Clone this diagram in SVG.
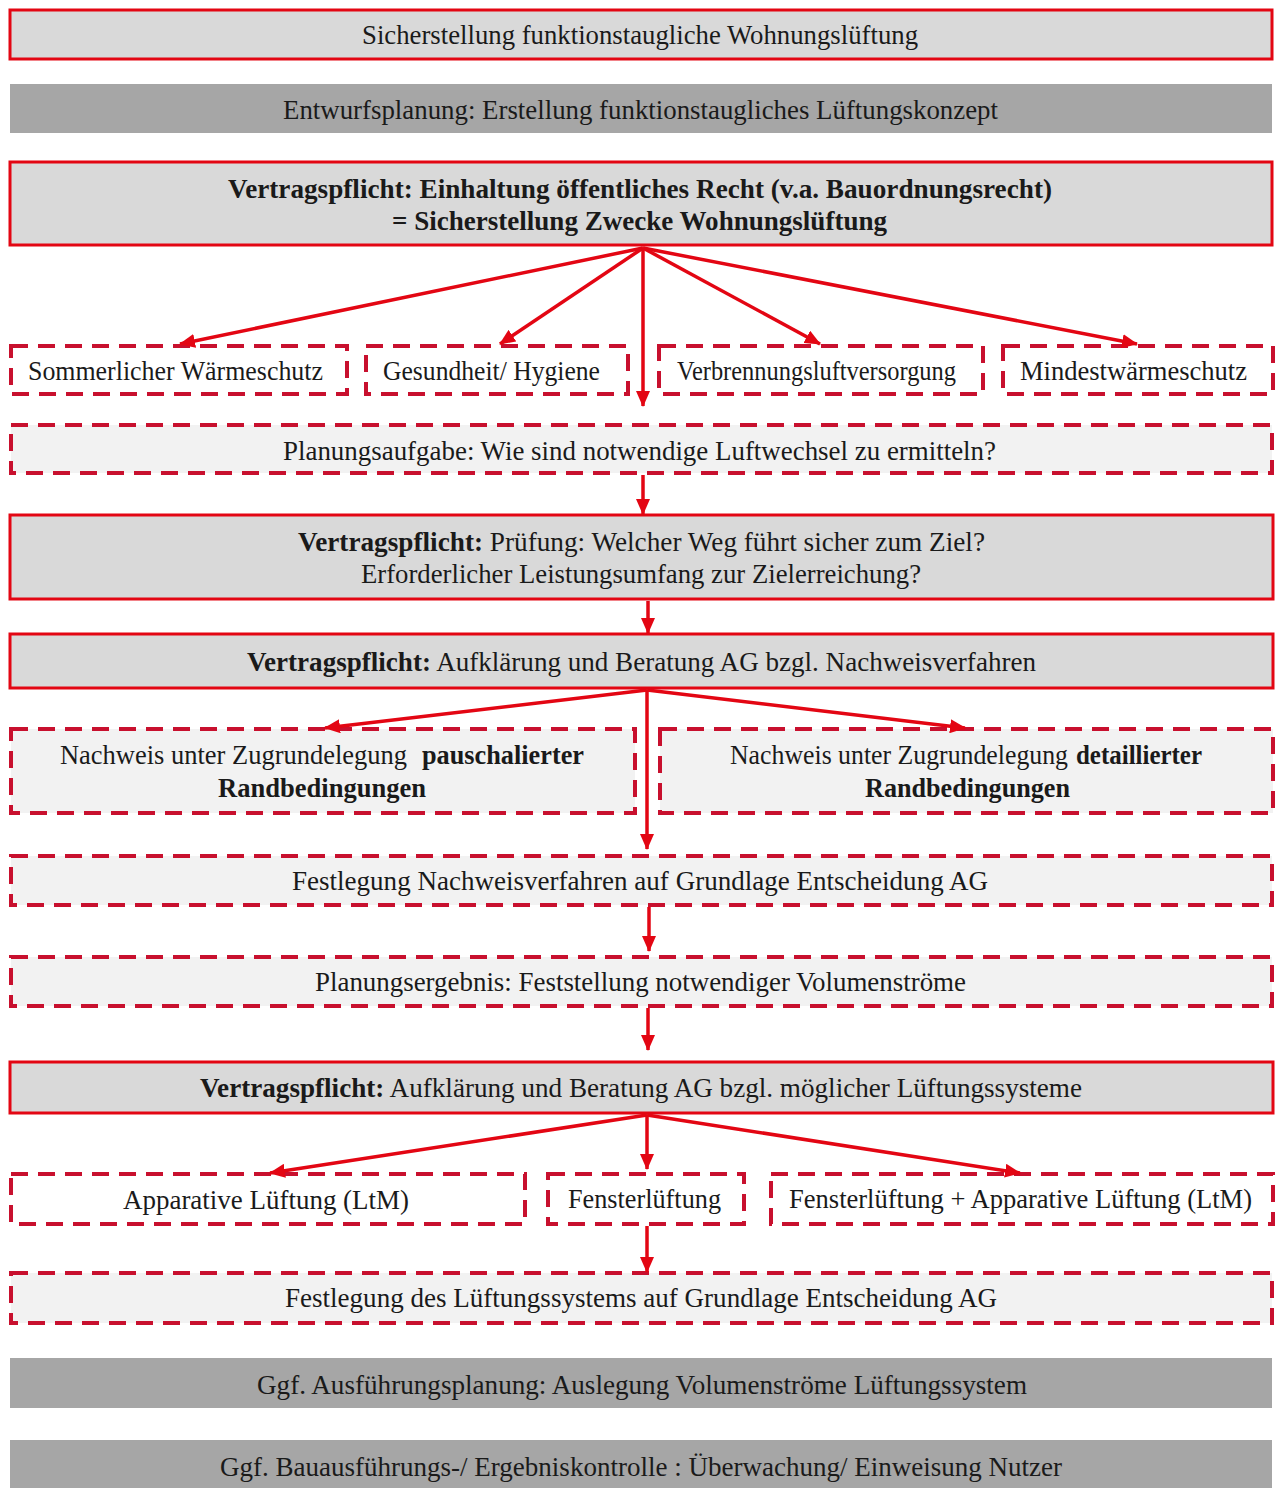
<svg xmlns="http://www.w3.org/2000/svg" width="1280" height="1488" viewBox="0 0 1280 1488">
<style>
text{font-family:"Liberation Serif","Times New Roman",serif;font-size:27px;fill:#1a1a1a}
.b{font-weight:bold}
.solid{fill:#d9d9d9;stroke:#e30613;stroke-width:3}
.bar{fill:#a6a6a6}
.dash{fill:#f2f2f2;stroke:#c8102e;stroke-width:4;stroke-dasharray:17 10}
.dashw{fill:#ffffff;stroke:#c8102e;stroke-width:4;stroke-dasharray:17 10}
.con{stroke:#e30613;stroke-width:3.5;fill:none;marker-end:url(#ah)}
</style>
<defs>
<marker id="ah" markerUnits="userSpaceOnUse" markerWidth="16" markerHeight="14" refX="15" refY="7" orient="auto">
<path d="M0,0 L16,7 L0,14 z" fill="#e30613"/>
</marker>
</defs>
<rect width="1280" height="1488" fill="#ffffff"/>

<g id="n1"><rect class="solid" x="10" y="10" width="1262" height="49"/>
<text x="362" y="44" textLength="556" lengthAdjust="spacingAndGlyphs">Sicherstellung  funktionstaugliche  Wohnungslüftung</text></g>

<g id="n2"><rect class="bar" x="10" y="84" width="1262" height="49"/>
<text x="283" y="119" textLength="715" lengthAdjust="spacingAndGlyphs">Entwurfsplanung: Erstellung funktionstaugliches Lüftungskonzept</text></g>

<g id="n3"><rect class="solid" x="10" y="162" width="1262" height="83"/>
<text class="b" x="228" y="198" textLength="824" lengthAdjust="spacingAndGlyphs">Vertragspflicht: Einhaltung öffentliches Recht (v.a. Bauordnungsrecht)</text>
<text class="b" x="392" y="230" textLength="495" lengthAdjust="spacingAndGlyphs">= Sicherstellung Zwecke Wohnungslüftung</text></g>

<g id="n4"><rect class="dashw" x="11" y="346" width="336" height="48"/>
<text x="28" y="380" textLength="295" lengthAdjust="spacingAndGlyphs">Sommerlicher Wärmeschutz</text></g>
<g id="n5"><rect class="dashw" x="366" y="346" width="262" height="48"/>
<text x="383" y="380" textLength="217" lengthAdjust="spacingAndGlyphs">Gesundheit/ Hygiene</text></g>
<g id="n6"><rect class="dashw" x="659" y="346" width="324" height="48"/>
<text x="677" y="380" textLength="279" lengthAdjust="spacingAndGlyphs">Verbrennungsluftversorgung</text></g>
<g id="n7"><rect class="dashw" x="1003" y="346" width="270" height="48"/>
<text x="1020" y="380" textLength="227" lengthAdjust="spacingAndGlyphs">Mindestwärmeschutz</text></g>

<g id="n8"><rect class="dash" x="11" y="425" width="1261" height="48"/>
<text x="283" y="460" textLength="713" lengthAdjust="spacingAndGlyphs">Planungsaufgabe: Wie sind notwendige Luftwechsel zu ermitteln?</text></g>

<g id="n9"><rect class="solid" x="10" y="515" width="1263" height="84"/>
<text x="298" y="551" textLength="687" lengthAdjust="spacingAndGlyphs"><tspan class="b">Vertragspflicht:</tspan> Prüfung: Welcher Weg führt sicher zum Ziel?</text>
<text x="361" y="583" textLength="560" lengthAdjust="spacingAndGlyphs">Erforderlicher Leistungsumfang zur Zielerreichung?</text></g>

<g id="n10"><rect class="solid" x="10" y="634" width="1263" height="54"/>
<text x="247" y="671" textLength="789" lengthAdjust="spacingAndGlyphs"><tspan class="b">Vertragspflicht:</tspan> Aufklärung und Beratung AG bzgl. Nachweisverfahren</text></g>

<g id="n11"><rect class="dash" x="11" y="729" width="624" height="84"/>
<text x="60" y="764" textLength="347" lengthAdjust="spacingAndGlyphs">Nachweis unter Zugrundelegung</text>
<text class="b" x="422" y="764" textLength="162" lengthAdjust="spacingAndGlyphs">pauschalierter</text>
<text class="b" x="218" y="797" textLength="208" lengthAdjust="spacingAndGlyphs">Randbedingungen</text></g>

<g id="n12"><rect class="dash" x="660" y="729" width="613" height="84"/>
<text x="730" y="764" textLength="338" lengthAdjust="spacingAndGlyphs">Nachweis unter Zugrundelegung</text>
<text class="b" x="1076" y="764" textLength="126" lengthAdjust="spacingAndGlyphs">detaillierter</text>
<text class="b" x="865" y="797" textLength="205" lengthAdjust="spacingAndGlyphs">Randbedingungen</text></g>

<g id="n13"><rect class="dash" x="11" y="856" width="1261" height="49"/>
<text x="292" y="890" textLength="696" lengthAdjust="spacingAndGlyphs">Festlegung Nachweisverfahren auf Grundlage Entscheidung AG</text></g>

<g id="n14"><rect class="dash" x="11" y="957" width="1261" height="49"/>
<text x="315" y="991" textLength="651" lengthAdjust="spacingAndGlyphs">Planungsergebnis: Feststellung notwendiger Volumenströme</text></g>

<g id="n15"><rect class="solid" x="10" y="1062" width="1263" height="51"/>
<text x="200" y="1097" textLength="882" lengthAdjust="spacingAndGlyphs"><tspan class="b">Vertragspflicht:</tspan> Aufklärung und Beratung AG bzgl. möglicher Lüftungssysteme</text></g>

<g id="n16"><rect class="dashw" x="11" y="1174" width="514" height="50"/>
<text x="123" y="1209" textLength="286" lengthAdjust="spacingAndGlyphs">Apparative Lüftung (LtM)</text></g>
<g id="n17"><rect class="dashw" x="548" y="1174" width="196" height="50"/>
<text x="568" y="1208" textLength="153" lengthAdjust="spacingAndGlyphs">Fensterlüftung</text></g>
<g id="n18"><rect class="dashw" x="771" y="1174" width="502" height="50"/>
<text x="789" y="1208" textLength="463" lengthAdjust="spacingAndGlyphs">Fensterlüftung + Apparative Lüftung (LtM)</text></g>

<g id="n19"><rect class="dash" x="11" y="1273" width="1261" height="50"/>
<text x="285" y="1307" textLength="712" lengthAdjust="spacingAndGlyphs">Festlegung des Lüftungssystems auf Grundlage Entscheidung AG</text></g>

<g id="n20"><rect class="bar" x="10" y="1358" width="1262" height="50"/>
<text x="257" y="1394" textLength="770" lengthAdjust="spacingAndGlyphs">Ggf. Ausführungsplanung: Auslegung Volumenströme Lüftungssystem</text></g>

<g id="n21"><rect class="bar" x="10" y="1440" width="1262" height="48"/>
<text x="220" y="1476" textLength="842" lengthAdjust="spacingAndGlyphs">Ggf. Bauausführungs-/ Ergebniskontrolle : Überwachung/ Einweisung Nutzer</text></g>

<g id="connectors">
<line class="con" x1="643" y1="248" x2="180" y2="344"/>
<line class="con" x1="643" y1="248" x2="500" y2="344"/>
<line class="con" x1="643" y1="248" x2="820" y2="344"/>
<line class="con" x1="643" y1="248" x2="1137" y2="344"/>
<line class="con" x1="643" y1="248" x2="643" y2="406"/>
<line class="con" x1="643" y1="475" x2="643" y2="514"/>
<line class="con" x1="648" y1="601" x2="648" y2="633"/>
<line class="con" x1="647" y1="690" x2="325" y2="728"/>
<line class="con" x1="647" y1="690" x2="965" y2="728"/>
<line class="con" x1="647" y1="690" x2="647" y2="849"/>
<line class="con" x1="649" y1="907" x2="649" y2="951"/>
<line class="con" x1="648" y1="1008" x2="648" y2="1050"/>
<line class="con" x1="647" y1="1115" x2="270" y2="1173"/>
<line class="con" x1="647" y1="1115" x2="647" y2="1169"/>
<line class="con" x1="647" y1="1115" x2="1020" y2="1173"/>
<line class="con" x1="647" y1="1226" x2="647" y2="1272"/>
</g>
</svg>
